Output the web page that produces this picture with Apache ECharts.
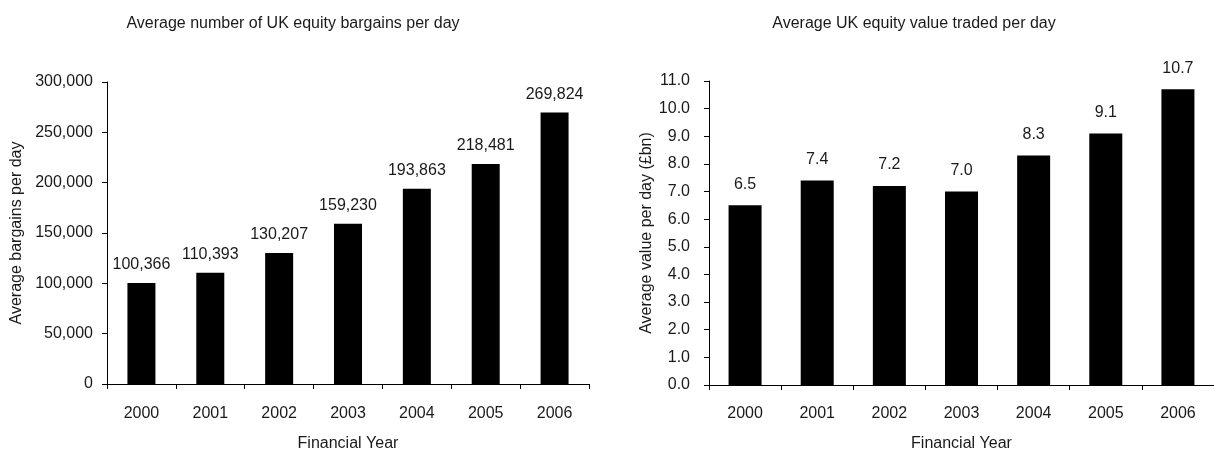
<!DOCTYPE html>
<html>
<head>
<meta charset="utf-8">
<script src="https://cdn.jsdelivr.net/npm/echarts@6/dist/echarts.min.js"></script>
<style>
  html, body { margin: 0; padding: 0; background: #fff; }
  #chart { width: 1214px; height: 457px; }
</style>
</head>
<body>
<div id="chart"></div>
<script>
const years = ['2000', '2001', '2002', '2003', '2004', '2005', '2006']
const bargainsPerDay = [100366, 110393, 130207, 159230, 193863, 218481, 269824]
const valuePerDay = [6.5, 7.4, 7.2, 7.0, 8.3, 9.1, 10.7]

const FONT = '"Liberation Sans", Arial, Helvetica, sans-serif'
const TEXT = '#1a1a1a'
const FS = 16

const fmtComma = v => Number(v).toLocaleString('en-GB')
const fmtOne = v => Number(v).toFixed(1)

const chart = echarts.init(document.getElementById('chart'))

const axisLine = { show: true, lineStyle: { color: '#000', width: 1 } }
const axisTick = { show: true, length: 5, inside: false, lineStyle: { color: '#000' } }
const nameStyle = { fontSize: FS, color: TEXT, fontFamily: FONT }

chart.setOption({
  animation: false,
  backgroundColor: '#fff',
  textStyle: { fontFamily: FONT, color: TEXT },
  title: [
    {
      text: 'Average number of UK equity bargains per day',
      left: 293, top: 16, textAlign: 'center', padding: 0,
      textStyle: { fontFamily: FONT, fontSize: FS, fontWeight: 'normal', color: TEXT }
    },
    {
      text: 'Average UK equity value traded per day',
      left: 914, top: 16, textAlign: 'center', padding: 0,
      textStyle: { fontFamily: FONT, fontSize: FS, fontWeight: 'normal', color: TEXT }
    }
  ],
  grid: [
    { left: 107, top: 82, width: 482, height: 310, containLabel: false },
    { left: 709, top: 81, width: 513, height: 312, containLabel: false }
  ],
  xAxis: [
    {
      gridIndex: 0, type: 'category', data: years,
      axisLine, axisTick,
      axisLabel: { fontSize: FS, color: TEXT, margin: 22, fontFamily: FONT },
      name: 'Financial Year', nameLocation: 'middle', nameGap: 52,
      nameTextStyle: nameStyle
    },
    {
      gridIndex: 1, type: 'category', data: years,
      axisLine, axisTick,
      axisLabel: { fontSize: FS, color: TEXT, margin: 21, fontFamily: FONT },
      name: 'Financial Year', nameLocation: 'middle', nameGap: 51,
      nameTextStyle: nameStyle
    }
  ],
  yAxis: [
    {
      gridIndex: 0, type: 'value', min: 0, max: 300000, interval: 50000,
      axisLine, axisTick, splitLine: { show: false },
      axisLabel: { fontSize: FS, color: TEXT, margin: 14, formatter: fmtComma, fontFamily: FONT },
      name: 'Average bargains per day', nameLocation: 'middle', nameGap: 82,
      nameTextStyle: nameStyle
    },
    {
      gridIndex: 1, type: 'value', min: 0, max: 11, interval: 1,
      axisLine, axisTick, splitLine: { show: false },
      axisLabel: { fontSize: FS, color: TEXT, margin: 19, formatter: fmtOne, fontFamily: FONT },
      name: 'Average value per day (£bn)', nameLocation: 'middle', nameGap: 53,
      nameTextStyle: nameStyle
    }
  ],
  series: [
    {
      type: 'bar', xAxisIndex: 0, yAxisIndex: 0, data: bargainsPerDay,
      barWidth: 28, itemStyle: { color: '#000' },
      label: {
        show: true, position: 'top', distance: 10, fontSize: FS, color: TEXT,
        fontFamily: FONT, formatter: p => fmtComma(p.value)
      }
    },
    {
      type: 'bar', xAxisIndex: 1, yAxisIndex: 1, data: valuePerDay,
      barWidth: 33, itemStyle: { color: '#000' },
      label: {
        show: true, position: 'top', distance: 13, fontSize: FS, color: TEXT,
        fontFamily: FONT, formatter: p => fmtOne(p.value)
      }
    }
  ]
})
</script>
</body>
</html>
